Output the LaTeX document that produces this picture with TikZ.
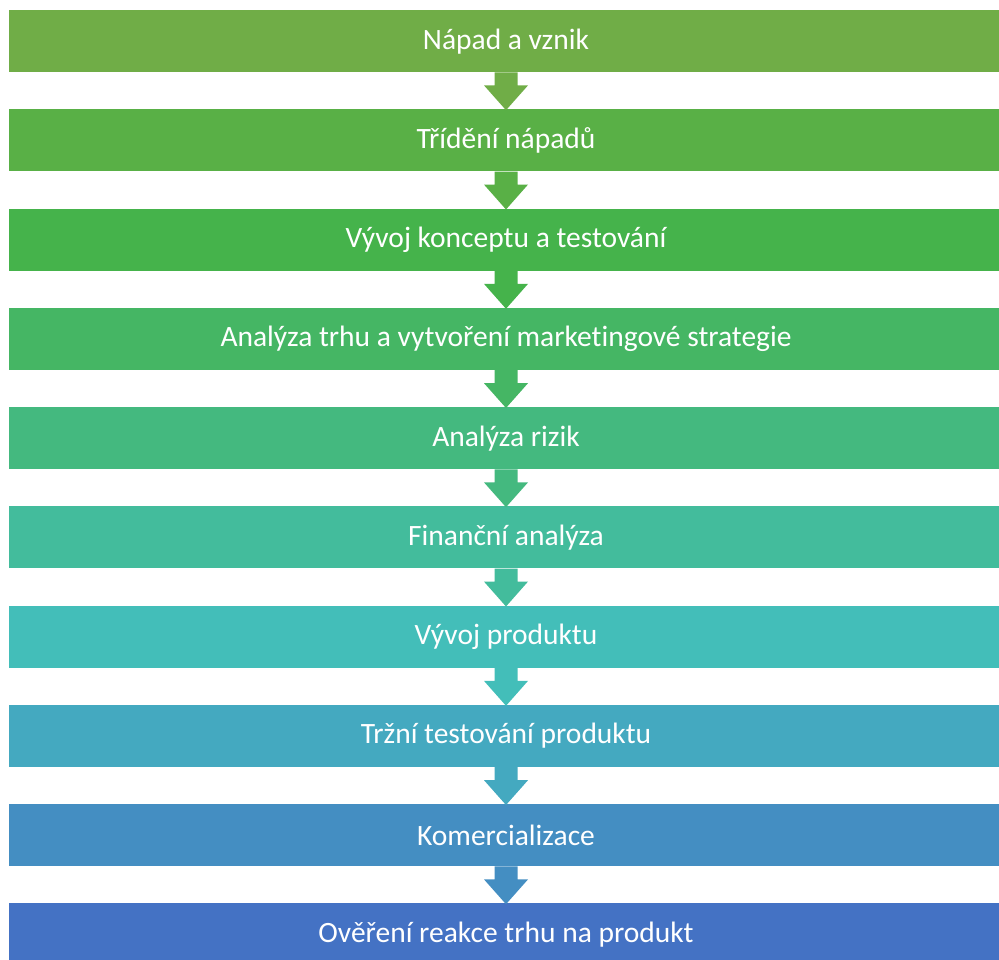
\documentclass[tikz,border=0pt]{standalone}
\usepackage{fontspec}
\setmainfont{Carlito}[Ligatures=NoCommon]
\definecolor{c0}{HTML}{70AD47}
\definecolor{c1}{HTML}{59B046}
\definecolor{c2}{HTML}{45B34B}
\definecolor{c3}{HTML}{45B664}
\definecolor{c4}{HTML}{44B97F}
\definecolor{c5}{HTML}{43BC9C}
\definecolor{c6}{HTML}{43BEB9}
\definecolor{c7}{HTML}{44A9C0}
\definecolor{c8}{HTML}{448EC2}
\definecolor{c9}{HTML}{4472C4}
\tikzset{
  stagebox/.style={fill=#1, draw=none, minimum width=994pt, minimum height=62pt, inner sep=0pt, text=white, font=\fontsize{29.5}{34}\selectfont, anchor=north},
  flowarrow/.style={fill=#1, draw=none}
}
\begin{document}
\begin{tikzpicture}[x=1pt,y=1pt]
\useasboundingbox (0,0) rectangle (999,-960);
\begin{scope}
\clip (0,0) rectangle (999,-960);
\node[stagebox=c0] (b0) at (506,-10) {Nápad a vznik};
\node[stagebox=c1] (b1) at (506,-109.2) {Třídění nápadů};
\node[stagebox=c2] (b2) at (506,-208.5) {Vývoj konceptu a testování};
\node[stagebox=c3] (b3) at (506,-307.8) {Analýza trhu a vytvoření marketingové strategie};
\node[stagebox=c4] (b4) at (506,-407) {Analýza rizik};
\node[stagebox=c5] (b5) at (506,-506.2) {Finanční analýza};
\node[stagebox=c6] (b6) at (506,-605.5) {Vývoj produktu};
\node[stagebox=c7] (b7) at (506,-704.8) {Tržní testování produktu};
\node[stagebox=c8] (b8) at (506,-804) {Komercializace};
\node[stagebox=c9] (b9) at (506,-903.2) {Ověření reakce trhu na produkt};
\foreach \a/\b/\c in {b0/b1/c0,b1/b2/c1,b2/b3/c2,b3/b4/c3,b4/b5/c4,b5/b6/c5,b6/b7/c6,b7/b8/c7,b8/b9/c8}{
  \fill[flowarrow=\c] ([xshift=-11.5pt]\a.south) -- ([xshift=11.5pt]\a.south)
    -- ([xshift=11.5pt,yshift=-13pt]\a.south) -- ([xshift=22pt,yshift=-13pt]\a.south)
    -- ([yshift=-1pt]\b.north) -- ([xshift=-22pt,yshift=-13pt]\a.south)
    -- ([xshift=-11.5pt,yshift=-13pt]\a.south) -- cycle;
}
\end{scope}
\end{tikzpicture}
\end{document}
